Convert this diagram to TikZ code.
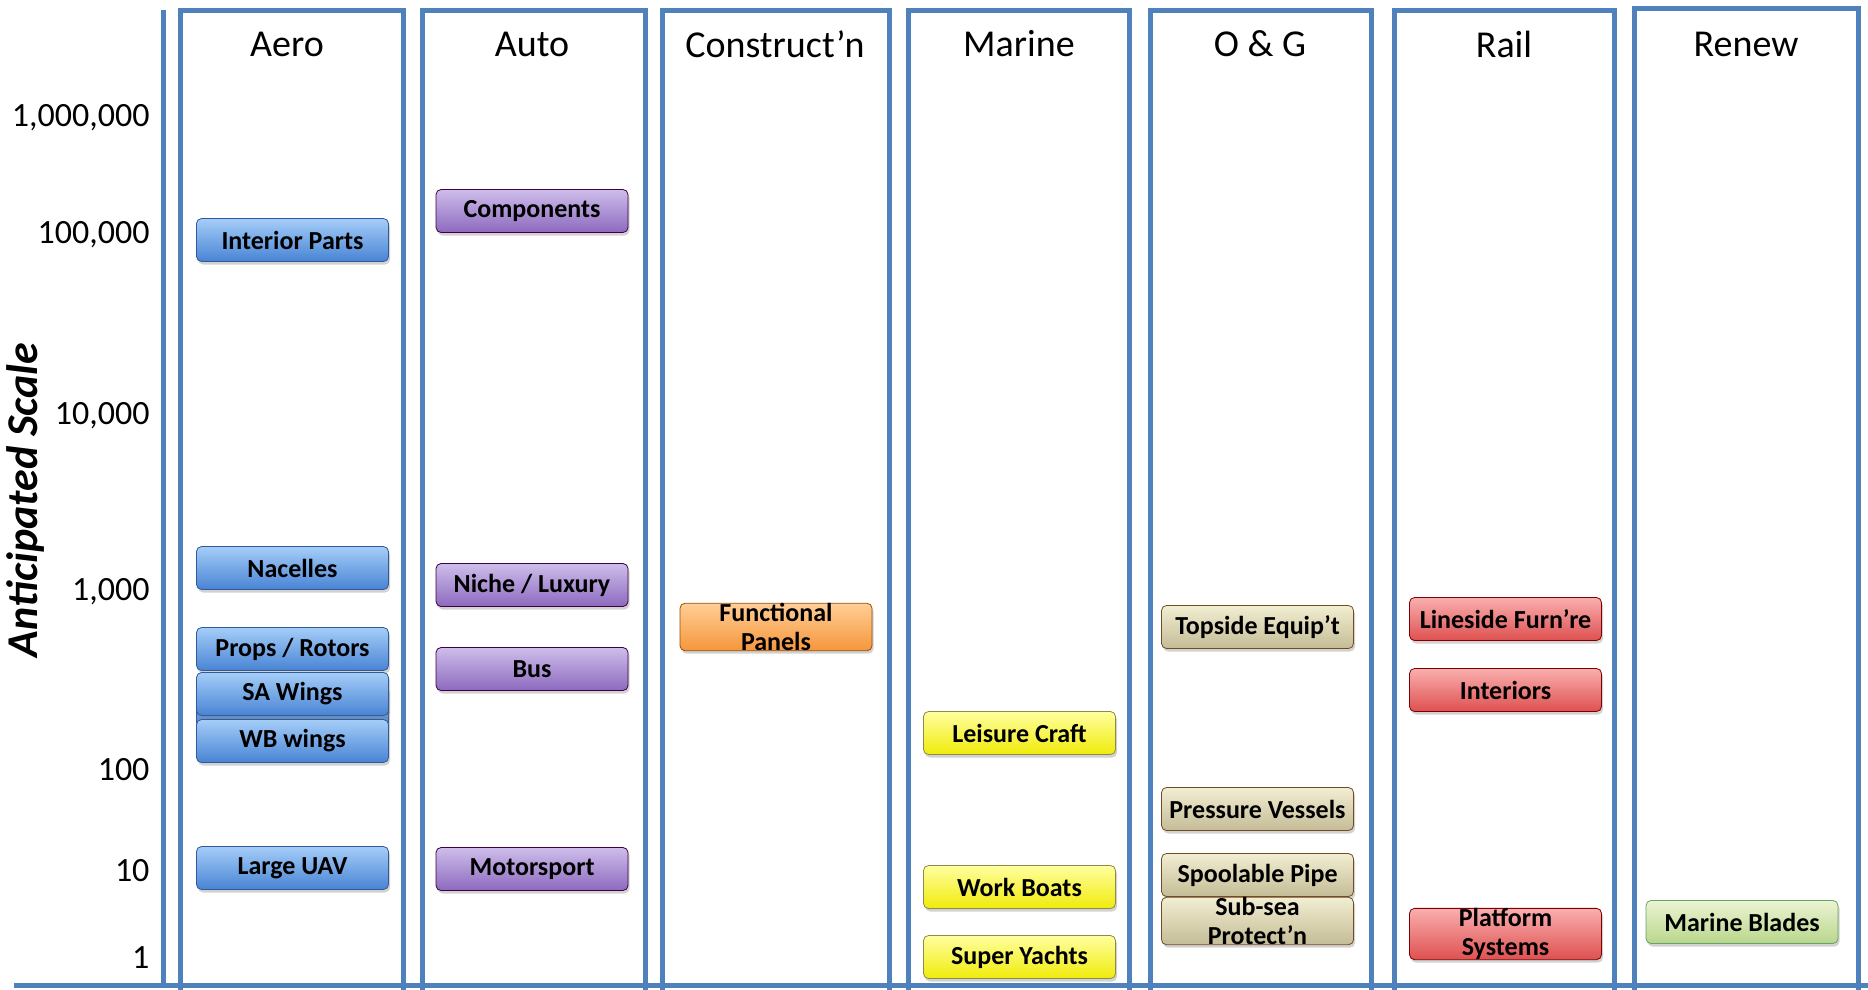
\documentclass[tikz,border=0pt]{standalone}
\usepackage{fontspec}
\setmainfont{Carlito}
\usetikzlibrary{shadows}
\definecolor{colblue}{HTML}{4F81BD}
\tikzset{
  col/.style={draw=colblue, line width=5pt},
  title/.style={font=\fontsize{38}{42}\selectfont, anchor=center},
  tick/.style={font=\fontsize{34}{38}\selectfont, anchor=east},
  bar/.style={rounded corners=5pt, minimum width=192pt, minimum height=43pt, line width=0.8pt,
    font=\bfseries\fontsize{26}{30}\selectfont, align=center, inner sep=0pt,
    drop shadow={opacity=0.35, shadow xshift=1.5pt, shadow yshift=-3pt}},
  bluebar/.style={bar, draw={rgb,255:red,50;green,90;blue,150}, top color={rgb,255:red,165;green,205;blue,248}, bottom color={rgb,255:red,72;green,132;blue,212}},
  purplebar/.style={bar, draw=violet!50!black, top color={rgb,255:red,206;green,190;blue,235}, bottom color={rgb,255:red,140;green,105;blue,190}},
  orangebar/.style={bar, draw=orange!60!black, top color={rgb,255:red,255;green,206;blue,150}, bottom color={rgb,255:red,245;green,150;blue,60}},
  yellowbar/.style={bar, draw=yellow!50!black, top color={rgb,255:red,255;green,255;blue,160}, bottom color={rgb,255:red,240;green,235;blue,10}},
  khakibar/.style={bar, draw=brown!60!black, top color={rgb,255:red,242;green,238;blue,210}, bottom color={rgb,255:red,196;green,188;blue,150}},
  redbar/.style={bar, draw=red!50!black, top color={rgb,255:red,250;green,175;blue,175}, bottom color={rgb,255:red,222;green,80;blue,80}},
  greenbar/.style={bar, draw=green!40!black!60, top color={rgb,255:red,235;green,244;blue,210}, bottom color={rgb,255:red,185;green,214;blue,140}},
}
\begin{document}
\begin{tikzpicture}[x=1pt, y=-1pt]
\useasboundingbox (0,0) rectangle (1868,989);
\fill[white] (0,0) rectangle (1868,989);
% columns
\draw[col] (180,10) rectangle (403,992);
\draw[col] (422,10) rectangle (645,992);
\draw[col] (662,10) rectangle (889,992);
\draw[col] (908,10) rectangle (1129,992);
\draw[col] (1150,10) rectangle (1371,992);
\draw[col] (1394,10) rectangle (1614,992);
\draw[col] (1634,8) rectangle (1858,992);
% axes
\coordinate (axtop) at (163,10);
\coordinate (axbot) at (163,985);
\coordinate (hl) at (14,985);
\coordinate (hr) at (1868,985);
\draw[col] (axtop) -- (axbot);
\draw[col] (hl) -- (hr);
% titles
\node[title] (tAero) at (287,44) {Aero};
\node[title] (tAuto) at (532,44) {Auto};
\node[title] (tCons) at (775,44) {Construct’n};
\node[title] (tMar) at (1019,44) {Marine};
\node[title] (tOG) at (1260,44) {O \& G};
\node[title] (tRail) at (1504,44) {Rail};
\node[title] (tRen) at (1746,44) {Renew};
% ticks
\node[tick] (k1) at (153,118) {1,000,000};
\node[tick] (k2) at (153,235) {100,000};
\node[tick] (k3) at (153,416) {10,000};
\node[tick] (k4) at (153,592) {1,000};
\node[tick] (k5) at (153,770) {100};
\node[tick] (k6) at (153,871) {10};
\node[tick] (k7) at (153,958) {1};
\node[rotate=90, font=\bfseries\itshape\fontsize{44}{48}\selectfont] (ylab) at (26,500) {Anticipated Scale};
% Aero
\node[bluebar] (ip) at (292.5,240) {Interior Parts};
\node[bluebar] (nac) at (292.5,568) {Nacelles};
\node[bluebar] (ghost) at (292.5,706) {};
\node[bluebar] (pr) at (292.5,649) {Props / Rotors};
\node[bluebar] (wb) at (292.5,741) {WB wings};
\node[bluebar] (sa) at (292.5,694) {SA Wings};
\node[bluebar] (uav) at (292.5,868) {Large UAV};
% Auto
\node[purplebar] (comp) at (532,211) {Components};
\node[purplebar] (niche) at (532,585) {Niche / Luxury};
\node[purplebar] (bus) at (532,669) {Bus};
\node[purplebar] (moto) at (532,869) {Motorsport};
% Construction
\node[orangebar] (fp) at (776,627) {Functional\\[-1pt]Panels};
% Marine
\node[yellowbar] (lc) at (1019.5,733) {Leisure Craft};
\node[yellowbar] (wbt) at (1019.5,887) {Work Boats};
\node[yellowbar] (sy) at (1019.5,957) {Super Yachts};
% O&G
\node[khakibar] (top) at (1257.5,627) {Topside Equip’t};
\node[khakibar] (pv) at (1257.5,809) {Pressure Vessels};
\node[khakibar] (sp) at (1257.5,875) {Spoolable Pipe};
\node[khakibar] (ss) at (1257.5,921) {Sub-sea\\[-1pt]Protect’n};
% Rail
\node[redbar] (lf) at (1505.5,619) {Lineside Furn’re};
\node[redbar] (int) at (1505.5,690) {Interiors};
\node[redbar] (ps) at (1505.5,934) {Platform\\[-1pt]Systems};
% Renew
\node[greenbar] (mb) at (1742,922) {Marine Blades};
\end{tikzpicture}
\end{document}
